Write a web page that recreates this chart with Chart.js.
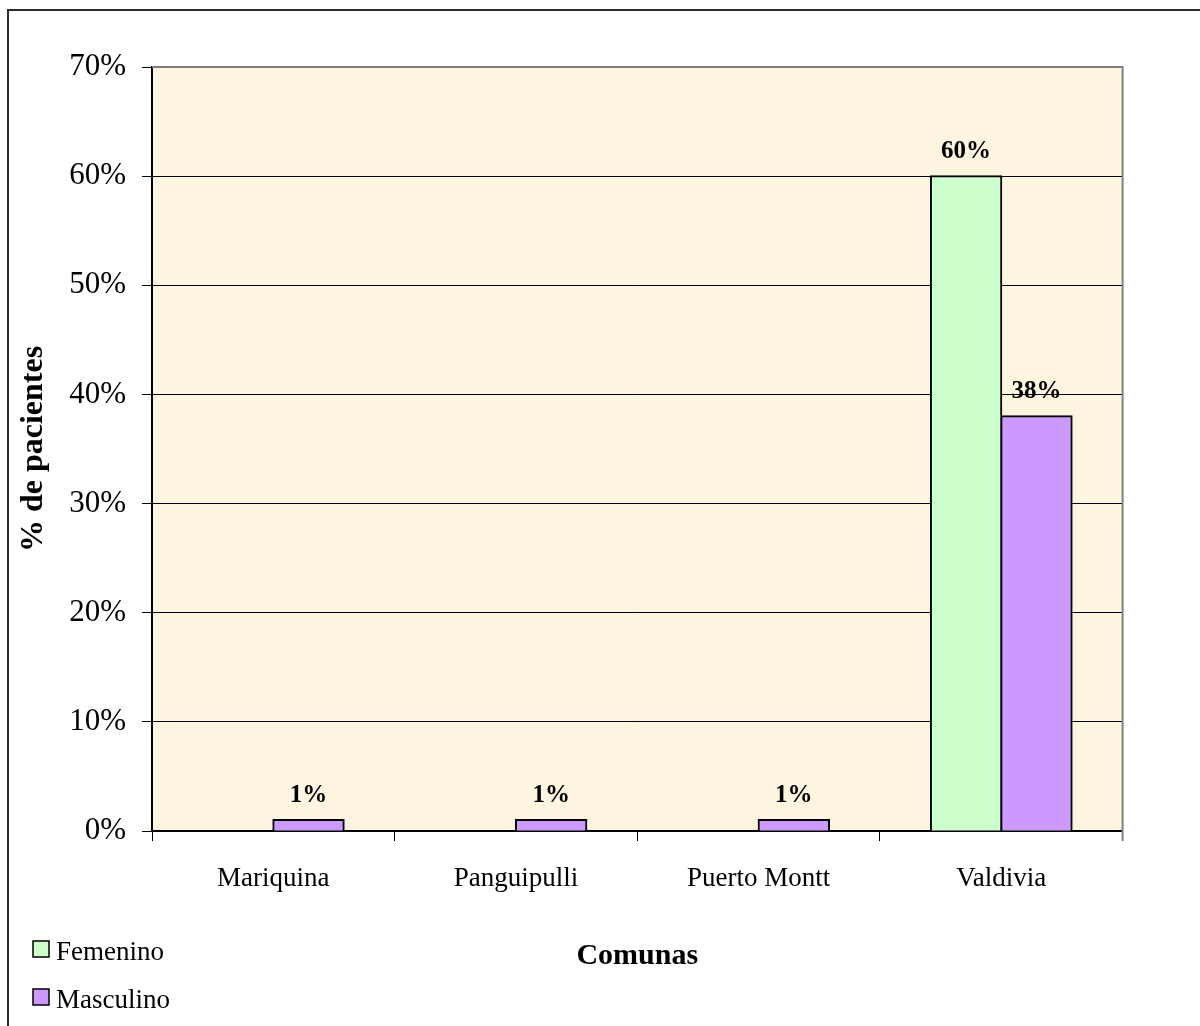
<!DOCTYPE html>
<html lang="es">
<head>
<meta charset="utf-8">
<title>Pacientes por comuna y sexo</title>
<script src="https://cdn.jsdelivr.net/npm/chart.js@4.4.1/dist/chart.umd.min.js"></script>
<style>
  html, body { margin: 0; padding: 0; background: #fff; }
  canvas { display: block; }
</style>
</head>
<body>
<canvas id="comunasChart" width="1200" height="1026"></canvas>
<script>
// Datos: porcentaje de pacientes por comuna
const comunas = ['Mariquina', 'Panguipulli', 'Puerto Montt', 'Valdivia'];
const femenino = [null, null, null, 60];
const masculino = [1, 1, 1, 38];
const yTicks = [0, 10, 20, 30, 40, 50, 60, 70];

const SERIF = '"Liberation Serif", "Times New Roman", serif';

// Fondo blanco, marco exterior y fondo pergamino del área de trazado
const fondoPlugin = {
  id: 'fondo',
  beforeDraw(chart) {
    const { ctx, chartArea: a } = chart;
    ctx.save();
    ctx.fillStyle = '#ffffff';
    ctx.fillRect(0, 0, chart.width, chart.height);
    ctx.strokeStyle = '#2b2b2b';
    ctx.lineWidth = 2;
    ctx.strokeRect(8, 10, chart.width + 20, chart.height + 20);
    ctx.fillStyle = '#fdf5e0';
    ctx.fillRect(a.left, a.top, a.right - a.left, a.bottom - a.top);
    ctx.restore();
  },
  afterDraw(chart) {
    const { ctx, chartArea: a } = chart;
    ctx.save();
    ctx.strokeStyle = '#808080';
    ctx.lineWidth = 2;
    ctx.beginPath();
    ctx.moveTo(a.left, a.top);
    ctx.lineTo(a.right, a.top);
    ctx.lineTo(a.right, a.bottom + 10);
    ctx.stroke();
    ctx.restore();
  }
};

// Etiquetas de valor sobre cada barra
const etiquetasPlugin = {
  id: 'etiquetas',
  afterDatasetsDraw(chart) {
    const { ctx } = chart;
    ctx.save();
    ctx.font = 'bold 25px ' + SERIF;
    ctx.fillStyle = '#000';
    ctx.textAlign = 'center';
    ctx.textBaseline = 'bottom';
    chart.data.datasets.forEach((ds, i) => {
      chart.getDatasetMeta(i).data.forEach((bar, j) => {
        const v = ds.data[j];
        if (v == null) return;
        ctx.fillText(Math.round(v) + '%', bar.x, bar.y - 12);
      });
    });
    ctx.restore();
  }
};

// Leyenda vertical en la esquina inferior izquierda
const leyendaPlugin = {
  id: 'leyendaVertical',
  afterDraw(chart) {
    const { ctx } = chart;
    ctx.save();
    ctx.font = '27px ' + SERIF;
    ctx.textBaseline = 'alphabetic';
    chart.data.datasets.forEach((ds, i) => {
      const y = 941 + i * 48;
      ctx.fillStyle = ds.backgroundColor;
      ctx.fillRect(33, y, 16, 16);
      ctx.strokeStyle = '#000';
      ctx.lineWidth = 1.5;
      ctx.strokeRect(33, y, 16, 16);
      ctx.fillStyle = '#000';
      ctx.fillText(ds.label, 56, y + 19);
    });
    ctx.restore();
  }
};

new Chart(document.getElementById('comunasChart'), {
  type: 'bar',
  data: {
    labels: comunas,
    datasets: [
      { label: 'Femenino', data: femenino, backgroundColor: '#ccffcc', borderColor: '#000', borderWidth: 2, inflateAmount: 1 },
      { label: 'Masculino', data: masculino, backgroundColor: '#cc99ff', borderColor: '#000', borderWidth: 2, inflateAmount: 1 }
    ]
  },
  options: {
    responsive: false,
    animation: false,
    categoryPercentage: 0.58,
    barPercentage: 1.0,
    layout: { padding: { left: 0, top: 67, right: 77.4, bottom: 40 } },
    plugins: {
      legend: { display: false },
      tooltip: { enabled: false }
    },
    scales: {
      x: {
        grid: { drawOnChartArea: false, offset: true, color: '#000', tickLength: 10, lineWidth: 1 },
        border: { display: true, color: '#000', width: 2 },
        ticks: { color: '#000', font: { family: SERIF, size: 27 }, padding: 22, maxRotation: 0 },
        title: {
          display: true, text: 'Comunas', color: '#000',
          font: { family: SERIF, size: 30, weight: 'bold' },
          padding: { top: 0, bottom: 12 }
        },
        afterFit(scale) { scale.height = 155; }
      },
      y: {
        min: 0,
        max: 70,
        afterBuildTicks(scale) { scale.ticks = yTicks.map(v => ({ value: v })); },
        grid: { color: '#000', lineWidth: 1, tickLength: 10 },
        border: { display: true, color: '#000', width: 2 },
        ticks: { color: '#000', font: { family: SERIF, size: 31 }, padding: 16, callback: v => v + '%' },
        title: {
          display: true, text: '% de pacientes', color: '#000',
          font: { family: SERIF, size: 32, weight: 'bold' },
          padding: { top: 15, bottom: 0 }
        },
        afterFit(scale) { scale.width = 152; }
      }
    }
  },
  plugins: [fondoPlugin, etiquetasPlugin, leyendaPlugin]
});
</script>
</body>
</html>
